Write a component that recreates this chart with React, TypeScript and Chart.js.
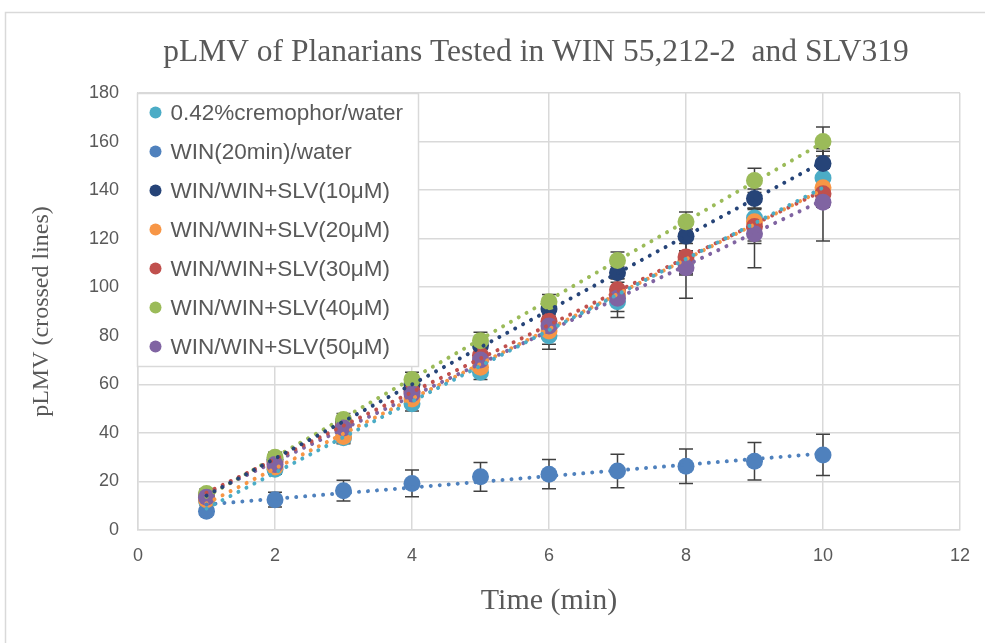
import React, { useEffect, useRef } from "react";
import { Chart, registerables } from "chart.js";

Chart.register(...registerables);

// ---------- data ----------
const timeMin = [1, 2, 3, 4, 5, 6, 7, 8, 9, 10];

const seriesNames = [
  "0.42%cremophor/water",
  "WIN(20min)/water",
  "WIN/WIN+SLV(10μM)",
  "WIN/WIN+SLV(20μM)",
  "WIN/WIN+SLV(30μM)",
  "WIN/WIN+SLV(40μM)",
  "WIN/WIN+SLV(50μM)",
];

const cremophorWater = [12, 25, 38, 52, 65, 80, 94, 110, 128.5, 145];
const win20Water = [7.7, 12.5, 16.2, 19.2, 21.9, 23, 24.3, 26.3, 28.3, 30.9];
const slv10 = [14, 29, 44.5, 60, 76, 91, 106, 121, 136.5, 151];
const slv20 = [12.5, 26, 38.5, 54, 67, 82, 97, 111, 127, 141];
const slv30 = [14.5, 28, 43, 57, 72, 86, 99, 112.5, 125, 138.5];
const slv40 = [15, 30, 45.5, 62, 78, 94, 111, 127, 144, 160];
const slv50 = [13.5, 27, 42, 56, 70, 84, 95.5, 108, 122, 135];

const errCremophor = [2, 2, 2.5, 3, 3, 5.5, 4, 5, 4, 12];
const errWin20 = [1.5, 3, 4.3, 5.5, 5.9, 6, 6.9, 7.1, 7.7, 8.5];
const errSlv10 = [2, 2, 2.5, 3, 3, 3, 2.5, 3, 4, 5];
const errSlv20 = [2, 2, 2.5, 3, 3, 3, 3, 4, 8, 8];
const errSlv30 = [2, 2, 2.5, 3, 3, 3, 3, 7, 7, 5];
const errSlv40 = [2, 2, 2.5, 3, 3.5, 3, 3.5, 4, 5, 6];
const errSlv50 = [2, 2, 2.5, 3, 3, 7.5, 8, 12.5, 14, 16];

const seriesValues = [cremophorWater, win20Water, slv10, slv20, slv30, slv40, slv50];
const seriesErrors = [errCremophor, errWin20, errSlv10, errSlv20, errSlv30, errSlv40, errSlv50];
const seriesColors = ["#4BACC6", "#4F81BD", "#264478", "#F79646", "#C0504D", "#9BBB59", "#8064A2"];

const xTickValues = [0, 2, 4, 6, 8, 10, 12];
const yTickValues = [0, 20, 40, 60, 80, 100, 120, 140, 160, 180];

const chartTitle = "pLMV of Planarians Tested in WIN 55,212-2  and SLV319";
const xAxisTitle = "Time (min)";
const yAxisTitle = "pLMV (crossed lines)";

// ---------- helpers ----------
function linearFit(xs: number[], ys: number[]) {
  const n = xs.length;
  let sx = 0, sy = 0, sxx = 0, sxy = 0;
  for (let i = 0; i < n; i++) {
    sx += xs[i]; sy += ys[i]; sxx += xs[i] * xs[i]; sxy += xs[i] * ys[i];
  }
  const slope = (n * sxy - sx * sy) / (n * sxx - sx * sx);
  const intercept = (sy - slope * sx) / n;
  return { slope, intercept };
}

const TEXT = "#595959";
const GRID = "#d9d9d9";

export default function App() {
  const canvasRef = useRef<HTMLCanvasElement | null>(null);

  useEffect(() => {
    document.body.style.margin = "0";
    const canvas = canvasRef.current;
    if (!canvas) return;

    const scatterSets = seriesNames.map((name, i) => ({
      type: "scatter" as const,
      label: name,
      data: timeMin.map((x, j) => ({ x, y: seriesValues[i][j] })),
      backgroundColor: seriesColors[i],
      borderColor: seriesColors[i],
      pointRadius: 8.5,
      pointHoverRadius: 8.5,
      pointBorderWidth: 0,
      showLine: false,
      order: 20 - i,
      errors: seriesErrors[i],
      isSeries: true,
    }));

    const trendSets = seriesNames.map((name, i) => {
      const { slope, intercept } = linearFit(timeMin, seriesValues[i]);
      const x0 = timeMin[0];
      const x1 = timeMin[timeMin.length - 1];
      return {
        type: "scatter" as const,
        label: name + " trend",
        data: [
          { x: x0, y: intercept + slope * x0 },
          { x: x1, y: intercept + slope * x1 },
        ],
        borderColor: seriesColors[i],
        backgroundColor: seriesColors[i],
        borderWidth: 4,
        borderDash: [0.001, 9],
        borderCapStyle: "round" as const,
        pointRadius: 0,
        showLine: true,
        order: 1,
        isSeries: false,
      };
    });

    const framePlugin = {
      id: "frame",
      beforeDraw(chart: any) {
        const ctx = chart.ctx;
        ctx.save();
        ctx.fillStyle = "#ffffff";
        ctx.fillRect(0, 0, chart.width, chart.height);
        ctx.strokeStyle = GRID;
        ctx.lineWidth = 1.5;
        ctx.strokeRect(5.5, 12.5, chart.width + 50, chart.height + 50);
        ctx.restore();
      },
    };

    const errorBarPlugin = {
      id: "errorBars",
      beforeDatasetsDraw(chart: any) {
        const ctx = chart.ctx;
        const xs = chart.scales.x;
        const ys = chart.scales.y;
        ctx.save();
        ctx.strokeStyle = "#404040";
        ctx.lineWidth = 1.5;
        chart.data.datasets.forEach((ds: any) => {
          if (!ds.isSeries) return;
          ds.data.forEach((p: any, j: number) => {
            const e = ds.errors[j];
            const px = xs.getPixelForValue(p.x);
            const top = ys.getPixelForValue(p.y + e);
            const bot = ys.getPixelForValue(p.y - e);
            ctx.beginPath();
            ctx.moveTo(px, top);
            ctx.lineTo(px, bot);
            ctx.moveTo(px - 7, top);
            ctx.lineTo(px + 7, top);
            ctx.moveTo(px - 7, bot);
            ctx.lineTo(px + 7, bot);
            ctx.stroke();
          });
        });
        ctx.restore();
      },
    };

    const legendPlugin = {
      id: "boxLegend",
      afterDatasetsDraw(chart: any) {
        const ctx = chart.ctx;
        const area = chart.chartArea;
        const left = area.left - 0.5;
        const top = area.top + 0.5;
        const w = 281;
        const h = 273;
        ctx.save();
        ctx.fillStyle = "#ffffff";
        ctx.fillRect(left, top, w, h);
        ctx.strokeStyle = GRID;
        ctx.lineWidth = 1.5;
        ctx.strokeRect(left, top, w, h);
        ctx.font = "22.5px 'Liberation Sans'";
        ctx.textBaseline = "middle";
        ctx.textAlign = "left";
        const items = chart.data.datasets.filter((d: any) => d.isSeries);
        items.forEach((d: any, i: number) => {
          const cy = top + 19 + i * 39;
          ctx.beginPath();
          ctx.fillStyle = d.backgroundColor;
          ctx.arc(left + 18, cy, 6, 0, Math.PI * 2);
          ctx.fill();
          ctx.fillStyle = TEXT;
          ctx.fillText(d.label, left + 33, cy + 1);
        });
        ctx.restore();
      },
    };

    const titlePlugin = {
      id: "customTitle",
      afterDraw(chart: any) {
        const ctx = chart.ctx;
        ctx.save();
        ctx.font = "31.5px 'Liberation Serif'";
        ctx.fillStyle = TEXT;
        ctx.textAlign = "center";
        ctx.textBaseline = "middle";
        ctx.fillText(chartTitle, 536, 53);
        ctx.restore();
      },
    };

    const chart = new Chart(canvas, {
      type: "scatter",
      data: { datasets: [...trendSets, ...scatterSets] as any },
      options: {
        animation: false,
        responsive: true,
        maintainAspectRatio: false,
        events: [],
        layout: { padding: { left: 0, right: 15, top: 93, bottom: 0 } },
        plugins: {
          legend: { display: false },
          title: { display: false },
          tooltip: { enabled: false },
        },
        scales: {
          x: {
            type: "linear",
            min: xTickValues[0],
            max: xTickValues[xTickValues.length - 1],
            afterBuildTicks: (scale: any) => {
              scale.ticks = xTickValues.map((v) => ({ value: v }));
            },
            afterFit: (scale: any) => {
              scale.height = 113;
            },
            ticks: {
              color: TEXT,
              font: { family: "'Liberation Sans'", size: 18 },
              padding: 15,
            },
            grid: { color: GRID, lineWidth: 1.5, drawTicks: false },
            border: { color: GRID, width: 1.5 },
            title: {
              display: true,
              text: xAxisTitle,
              color: TEXT,
              font: { family: "'Liberation Serif'", size: 30 },
              padding: { top: 4, bottom: 24 },
            },
          },
          y: {
            type: "linear",
            min: yTickValues[0],
            max: yTickValues[yTickValues.length - 1],
            afterBuildTicks: (scale: any) => {
              scale.ticks = yTickValues.map((v) => ({ value: v }));
            },
            afterFit: (scale: any) => {
              scale.width = 138;
            },
            ticks: {
              color: TEXT,
              font: { family: "'Liberation Sans'", size: 18 },
              padding: 19,
            },
            grid: { color: GRID, lineWidth: 1.5, drawTicks: false },
            border: { color: GRID, width: 1.5 },
            title: {
              display: true,
              text: yAxisTitle,
              color: TEXT,
              font: { family: "'Liberation Serif'", size: 24 },
              padding: { top: 27, bottom: 4 },
            },
          },
        },
      },
      plugins: [framePlugin, errorBarPlugin, legendPlugin, titlePlugin],
    } as any);

    return () => {
      chart.destroy();
    };
  }, []);

  return (
    <div style={{ position: "absolute", left: 0, top: 0, width: 985, height: 643 }}>
      <canvas ref={canvasRef} />
    </div>
  );
}
